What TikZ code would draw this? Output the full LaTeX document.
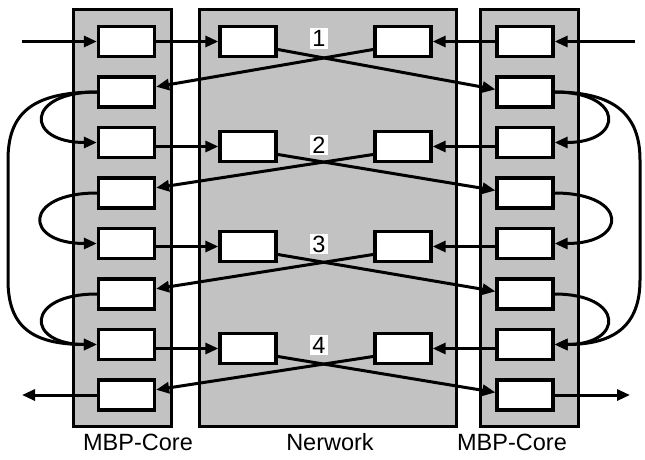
\documentclass[tikz,border=0pt]{standalone}
\usepackage{fontspec}
\setmainfont{Liberation Sans}
\usetikzlibrary{arrows.meta}
\begin{document}
\begin{tikzpicture}[x=1pt,y=-1pt,
  panel/.style={draw=black, line width=3.3pt, fill=black!24, inner sep=0pt, minimum height=417pt},
  cell/.style={draw=black, line width=3.3pt, fill=white, minimum width=56pt, minimum height=30pt, inner sep=0pt},
  conn/.style={line width=3pt, -{Triangle[length=13pt,width=11pt]}},
  numlab/.style={fill=white, inner sep=2pt, font=\fontsize{23.5}{27}\selectfont},
  caption/.style={anchor=base, inner sep=0pt, font=\fontsize{23.5}{27}\selectfont}]
\useasboundingbox (0,0) rectangle (645,459);
% panels
\node[panel, minimum width=98pt]  (pL) at (122.5,218) {};
\node[panel, minimum width=257pt] (pM) at (328,218) {};
\node[panel, minimum width=98pt]  (pR) at (529.5,218) {};
% side cells
\foreach \k/\y in {1/41.5,2/92,3/142.5,4/193,5/243.5,6/294,7/344.5,8/395}{
  \node[cell] (lB\k) at (126.5,\y) {};
  \node[cell] (rB\k) at (525,\y) {};
}
% network cells
\foreach \k/\y in {1/41.5,2/146.5,3/246.5,4/348.5}{
  \node[cell] (mL\k) at (248,\y) {};
  \node[cell] (mR\k) at (403,\y) {};
}
% labels
\node[numlab] (n1) at (319,38.5) {1};
\node[numlab] (n2) at (319,145) {2};
\node[numlab] (n3) at (319,244) {3};
\node[numlab] (n4) at (319,345) {4};
\node[caption] (cL) at (138,450) {MBP-Core};
\node[caption] (cM) at (330,450) {Nerwork};
\node[caption] (cR) at (512,450) {MBP-Core};
% inputs / outputs
\coordinate (inL) at (22,41.5);
\coordinate (inR) at (635,41.5);
\coordinate (outL) at (22,395);
\coordinate (outR) at (630,395);
\draw[conn] (inL) -- (lB1.west);
\draw[conn] (inR) -- (rB1.east);
\draw[conn] (lB8.west) -- (outL);
\draw[conn] (rB8.east) -- (outR);
% horizontal links into the network
\draw[conn] (lB1.east) -- (mL1.west);
\draw[conn] (rB1.west) -- (mR1.east);
\draw[conn] (lB3.east |- mL2.west) -- (mL2.west);
\draw[conn] (rB3.west |- mR2.east) -- (mR2.east);
\draw[conn] (lB5.east |- mL3.west) -- (mL3.west);
\draw[conn] (rB5.west |- mR3.east) -- (mR3.east);
\draw[conn] (lB7.east |- mL4.west) -- (mL4.west);
\draw[conn] (rB7.west |- mR4.east) -- (mR4.east);
% crossing links
\draw[conn] (mL1.-15) -- (rB2.175);
\draw[conn] (mR1.195) -- (lB2.10);
\draw[conn] (mL2.-15) -- (rB4.175);
\draw[conn] (mR2.195) -- (lB4.10);
\draw[conn] (mL3.-15) -- (rB6.175);
\draw[conn] (mR3.195) -- (lB6.10);
\draw[conn] (mL4.-15) -- (rB8.175);
\draw[conn] (mR4.195) -- (lB8.10);
% left loops
\draw[conn] (lB2.west) .. controls +(-72,0) and +(-72,0) .. (lB3.west);
\draw[conn] (lB4.west) .. controls +(-74,0) and +(-74,0) .. (lB5.west);
\draw[conn] (lB6.west) .. controls +(-72,0) and +(-72,0) .. (lB7.west);
\draw[conn] (lB2.west) .. controls (30,92) and (8,115) .. (8,160) -- (8,280) .. controls (8,325) and (30,344.5) .. (lB7.west);
% right loops
\draw[conn] (rB2.east) .. controls +(70,0) and +(70,0) .. (rB3.east);
\draw[conn] (rB4.east) .. controls +(74,0) and +(74,0) .. (rB5.east);
\draw[conn] (rB6.east) .. controls +(70,0) and +(70,0) .. (rB7.east);
\draw[conn] (rB2.east) .. controls (615,92) and (640,115) .. (640,160) -- (640,280) .. controls (640,325) and (615,344.5) .. (rB7.east);
\end{tikzpicture}
\end{document}
